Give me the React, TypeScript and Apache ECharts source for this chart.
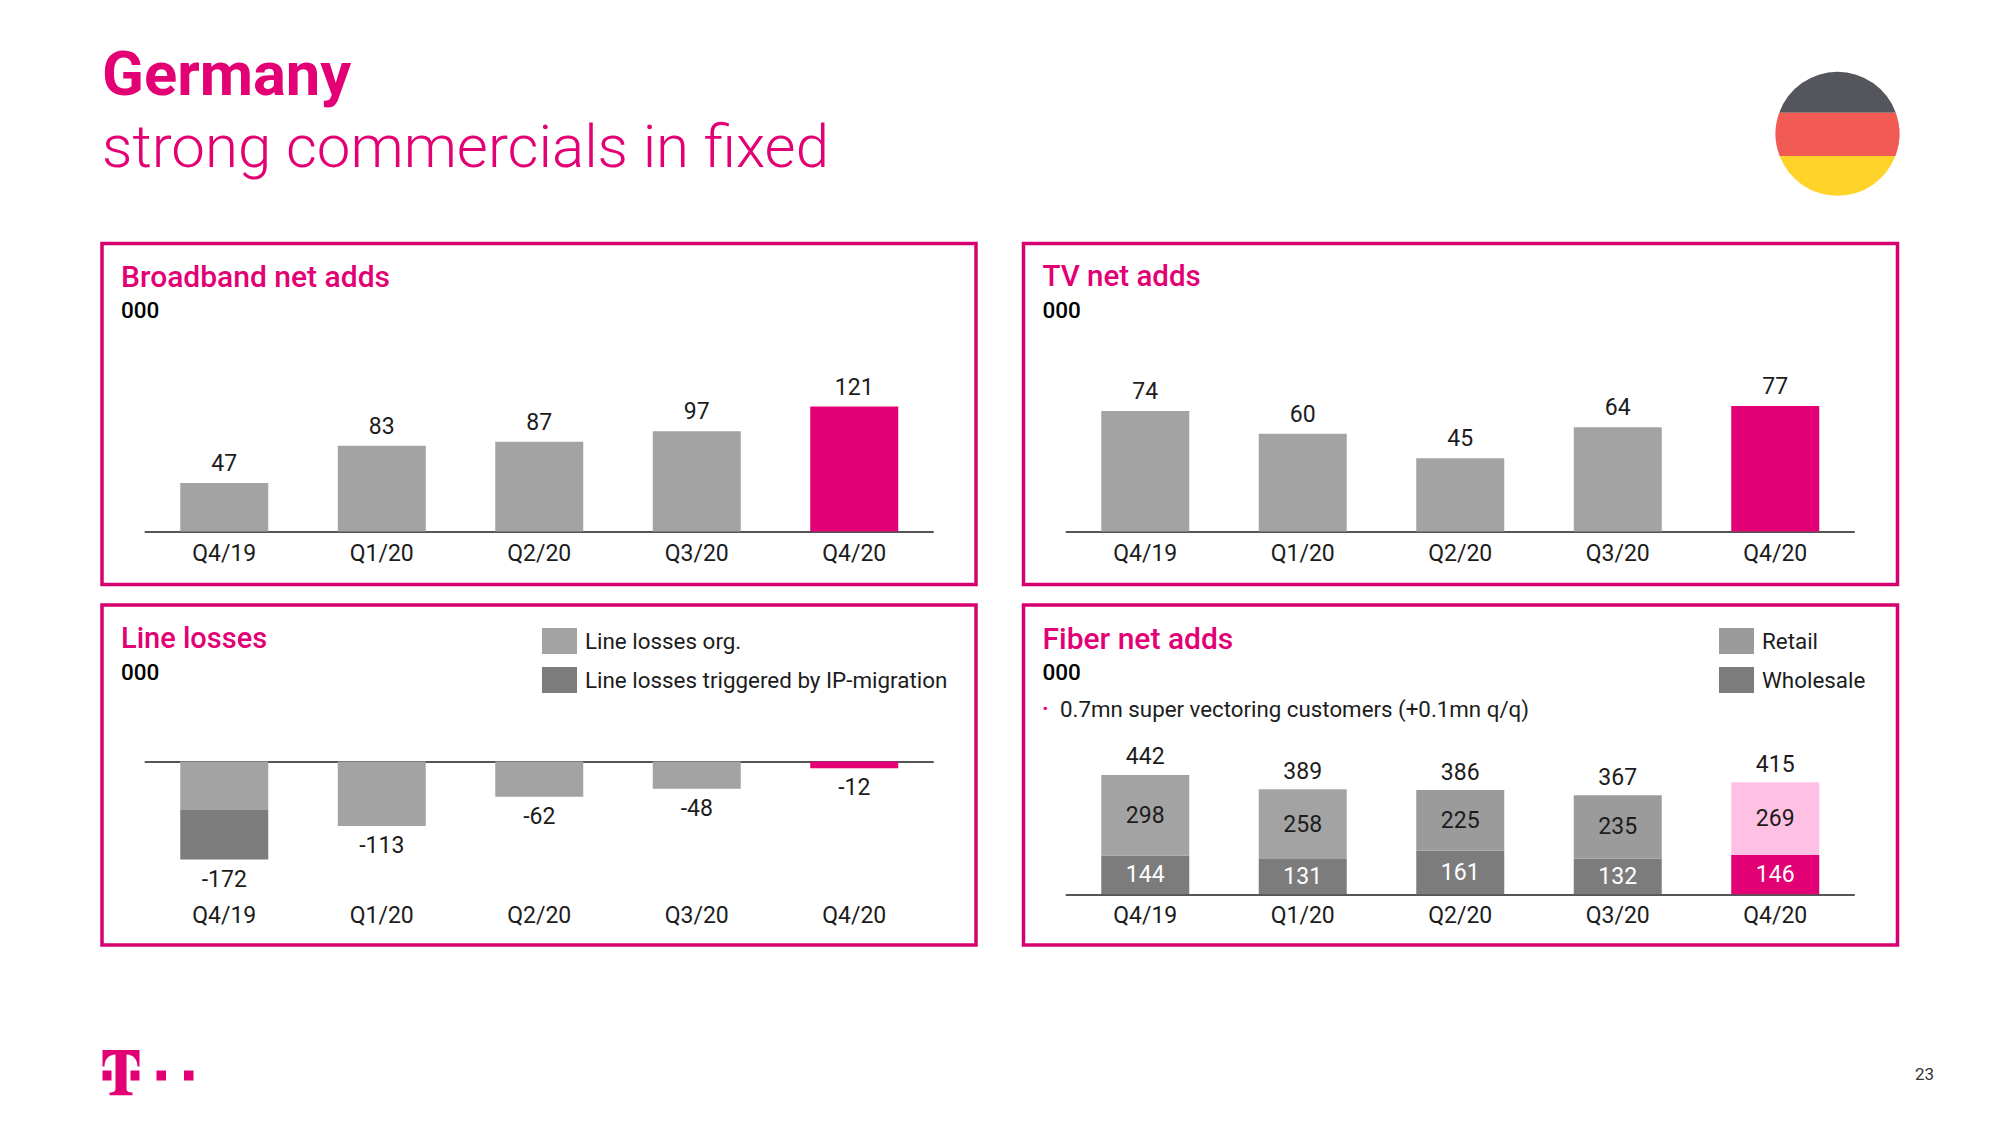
import React, { useEffect, useRef } from "react";
import * as echarts from "echarts";

const quarters = ["Q4/19", "Q1/20", "Q2/20", "Q3/20", "Q4/20"];
const broadband = [47, 83, 87, 97, 121];
const tv = [74, 60, 45, 64, 77];
const lineOrg = [-84, -113, -62, -48, -12];
const lineIp = [-88, null, null, null, null];
const lineTotal = [-172, -113, -62, -48, -12];
const fiberRetail = [298, 258, 225, 235, 269];
const fiberWholesale = [144, 131, 161, 132, 146];
const fiberTotal = [442, 389, 386, 367, 415];

const MAGENTA = "#E20074";
const BORDER = "#D6006F";
const GRAY = "#A3A3A3";
const GRAY2 = "#9B9B9B";
const DARK = "#7C7C7C";
const PINK = "#FFC1E3";
const TEXT = "#1C1C1C";
const FONT = "Roboto";
const LAST = quarters.length - 1;
const LABEL = 23;
const NOTE = 22.4;

echarts.graphic.registerShape("flagTop", echarts.graphic.extendPath("M1779.2 112.7 A62 62 0 0 1 1895.8 112.7 Z", {}));
echarts.graphic.registerShape("flagMid", echarts.graphic.extendPath("M1779.2 112.7 A62 62 0 0 0 1779.6 156 L1895.4 156 A62 62 0 0 0 1895.8 112.7 Z", {}));
echarts.graphic.registerShape("flagBot", echarts.graphic.extendPath("M1895.4 156 A62 62 0 0 1 1779.6 156 Z", {}));
echarts.graphic.registerShape("logoT", echarts.graphic.extendPath("M102.5 1050 H139.5 V1066.4 H137.5 C137.5 1059.4 133.5 1054.4 126.5 1054.4 V1088.4 C126.5 1091.4 128.5 1092.4 132.5 1092.4 V1095.2 H109.5 V1092.4 C113.5 1092.4 115.5 1091.4 115.5 1088.4 V1054.4 C108.5 1054.4 104.5 1059.4 104.5 1066.4 H102.5 Z", {}));

const txt = (x: number, y: number, text: string, fontSize: number, fontWeight: any, fill: string, scaleX = 1) => ({
  type: "text", x, y, scaleX,
  style: { text, fontSize, fontWeight, fill, fontFamily: FONT, verticalAlign: "middle", align: "left" },
});
const panel = (x: number, y: number, width: number, height: number) => ({
  type: "rect", shape: { x, y, width, height }, style: { fill: "none", stroke: BORDER, lineWidth: 3.5 },
});
const square = (x: number, y: number, width: number, height: number) => ({
  type: "rect", shape: { x, y, width, height }, style: { fill: MAGENTA },
});

const catAxis = (gridIndex: number, position: string, showLine: boolean, showLabel: boolean, margin = 10) => ({
  type: "category", gridIndex, position, data: quarters,
  axisLine: { show: showLine, onZero: false, lineStyle: { color: "#555555", width: 2 } },
  axisTick: { show: false },
  axisLabel: { show: showLabel, margin, fontSize: LABEL, fontFamily: FONT, color: TEXT, interval: 0 },
});
const valAxis = (gridIndex: number, min: number, max: number) => ({
  type: "value", gridIndex, min, max, show: false, splitLine: { show: false },
});
const simple = (name: string, i: number, values: number[]) => ({
  name, type: "bar", xAxisIndex: i, yAxisIndex: i, barWidth: 88,
  data: values.map((value, k) => ({ value, itemStyle: { color: k === LAST ? MAGENTA : GRAY } })),
  label: { show: true, position: "top", distance: 8, fontSize: LABEL, fontFamily: FONT, color: TEXT },
});
const totals = (name: string, i: number, values: number[], position: string, distance: number) => ({
  name, type: "line", xAxisIndex: i, yAxisIndex: i, data: values, symbol: "circle", symbolSize: 1,
  itemStyle: { color: "transparent" }, lineStyle: { width: 0, color: "transparent" }, z: 5,
  label: { show: true, position, distance, fontSize: LABEL, fontFamily: FONT, color: TEXT },
});
const legend = (left: number, data: string[]) => ({
  orient: "vertical", left, top: 628, padding: 0, itemWidth: 35, itemHeight: 26, itemGap: 13, data, icon: "rect",
  selectedMode: false,
  textStyle: { fontSize: NOTE, fontFamily: FONT, color: TEXT, padding: [3, 0, 0, 3] },
});

export default function App() {
  const ref = useRef<HTMLDivElement>(null);
  useEffect(() => {
    document.body.style.margin = "0";
    const chart = echarts.init(ref.current!, null, { renderer: "svg" });
    chart.setOption({
      animation: false,
      backgroundColor: "#FFFFFF",
      grid: [
        { left: 145.5, width: 787.5, top: 376.6, height: 155 },
        { left: 1066.5, width: 787.5, top: 368.6, height: 163 },
        { left: 145.5, width: 787.5, top: 761.5, height: 114 },
        { left: 1066.5, width: 787.5, top: 759.3, height: 135 },
      ],
      xAxis: [
        catAxis(0, "bottom", true, true),
        catAxis(1, "bottom", true, true),
        catAxis(2, "bottom", false, true, 28),
        catAxis(3, "bottom", true, true),
        catAxis(2, "top", true, false),
      ],
      yAxis: [valAxis(0, 0, 150), valAxis(1, 0, 100), valAxis(2, -200, 0), valAxis(3, 0, 500)],
      legend: [
        legend(542, ["Line losses org.", "Line losses triggered by IP-migration"]),
        legend(1719, ["Retail", "Wholesale"]),
      ],
      series: [
        simple("Broadband net adds", 0, broadband),
        simple("TV net adds", 1, tv),
        {
          name: "Line losses org.", type: "bar", stack: "loss", xAxisIndex: 2, yAxisIndex: 2, barWidth: 88,
          itemStyle: { color: GRAY },
          data: lineOrg.map((value, k) => ({ value, itemStyle: { color: k === LAST ? MAGENTA : GRAY } })),
        },
        {
          name: "Line losses triggered by IP-migration", type: "bar", stack: "loss", xAxisIndex: 2, yAxisIndex: 2,
          barWidth: 88, itemStyle: { color: DARK }, data: lineIp,
        },
        totals("Line losses total", 2, lineTotal, "bottom", 7.5),
        {
          name: "Wholesale", type: "bar", stack: "fiber", xAxisIndex: 3, yAxisIndex: 3, barWidth: 88,
          itemStyle: { color: DARK },
          data: fiberWholesale.map((value, k) => ({ value, itemStyle: { color: k === LAST ? MAGENTA : DARK } })),
          label: { show: true, position: "inside", fontSize: LABEL, fontFamily: FONT, color: "#FFFFFF" },
        },
        {
          name: "Retail", type: "bar", stack: "fiber", xAxisIndex: 3, yAxisIndex: 3, barWidth: 88,
          itemStyle: { color: GRAY2 },
          data: fiberRetail.map((value, k) => ({
            value, itemStyle: { color: k === LAST ? PINK : k < 2 ? GRAY : GRAY2 },
          })),
          label: { show: true, position: "inside", fontSize: LABEL, fontFamily: FONT, color: TEXT },
        },
        totals("Fiber total", 3, fiberTotal, "top", 6),
      ],
      graphic: [
        txt(102, 74, "Germany", 61.5, 700, MAGENTA),
        txt(102, 146.5, "strong commercials in fixed", 60, 300, MAGENTA, 1),
        panel(102, 243.5, 874, 341),
        panel(1023.5, 243.5, 874, 341),
        panel(102, 605, 874, 340),
        panel(1023.5, 605, 874, 340),
        txt(121, 276, "Broadband net adds", 30, 500, MAGENTA),
        txt(121, 309.5, "000", 22.5, 500, "#000000"),
        txt(1042.5, 276, "TV net adds", 29.5, 500, MAGENTA),
        txt(1042.5, 309.5, "000", 22.5, 500, "#000000"),
        txt(121, 638, "Line losses", 29, 500, MAGENTA),
        txt(121, 671.5, "000", 22.5, 500, "#000000"),
        txt(1042.5, 638, "Fiber net adds", 30, 500, MAGENTA),
        txt(1042.5, 671.5, "000", 22.5, 500, "#000000"),
        txt(1042, 708, "·", 22, 700, MAGENTA),
        txt(1060, 708.5, "0.7mn super vectoring customers (+0.1mn q/q)", 22.3, 400, TEXT),
        txt(1915, 1074, "23", 17, 400, "#333333"),
        { type: "flagTop", x: 0, y: 0, style: { fill: "#54565B" } },
        { type: "flagMid", x: 0, y: 0, style: { fill: "#F15B54" } },
        { type: "flagBot", x: 0, y: 0, style: { fill: "#FFD42A" } },
        { type: "logoT", x: 0, y: 0, style: { fill: MAGENTA } },
        square(102.5, 1070.5, 9, 10),
        square(130.5, 1070.5, 9, 10),
        square(156.5, 1070.5, 9.5, 10),
        square(184, 1070.5, 9.5, 10),
      ],
    });
    return () => chart.dispose();
  }, []);
  return <div ref={ref} style={{ width: 2000, height: 1125 }} />;
}
